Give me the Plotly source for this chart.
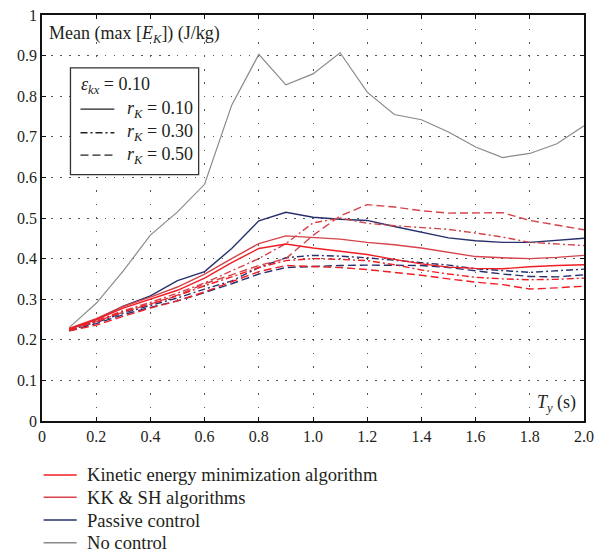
import plotly.graph_objects as go

# ---------------- data ----------------
T_y = [0.1, 0.2, 0.3, 0.4, 0.5, 0.6, 0.7, 0.8, 0.9, 1.0,
       1.1, 1.2, 1.3, 1.4, 1.5, 1.6, 1.7, 1.8, 1.9, 2.0]

no_control = [0.230, 0.290, 0.370, 0.458, 0.515, 0.583, 0.778, 0.903, 0.828, 0.855,
              0.907, 0.810, 0.755, 0.742, 0.712, 0.675, 0.649, 0.659, 0.683, 0.727]

passive_r10 = [0.226, 0.250, 0.283, 0.308, 0.346, 0.368, 0.425, 0.493, 0.514, 0.502,
               0.497, 0.494, 0.479, 0.465, 0.451, 0.444, 0.440, 0.440, 0.445, 0.450]
passive_r30 = [0.224, 0.243, 0.266, 0.285, 0.303, 0.325, 0.345, 0.378, 0.402, 0.408,
               0.406, 0.402, 0.396, 0.389, 0.384, 0.375, 0.370, 0.366, 0.370, 0.374]
passive_r50 = [0.222, 0.240, 0.262, 0.280, 0.296, 0.316, 0.338, 0.362, 0.378, 0.381,
               0.383, 0.384, 0.384, 0.383, 0.378, 0.370, 0.362, 0.356, 0.355, 0.360]

kinetic_r10 = [0.227, 0.250, 0.278, 0.300, 0.322, 0.352, 0.390, 0.425, 0.436, 0.426,
               0.418, 0.410, 0.398, 0.387, 0.379, 0.376, 0.375, 0.380, 0.383, 0.385]
kinetic_r30 = [0.225, 0.244, 0.270, 0.288, 0.308, 0.333, 0.355, 0.378, 0.395, 0.400,
               0.398, 0.395, 0.385, 0.372, 0.362, 0.354, 0.350, 0.348, 0.349, 0.352]
kinetic_r50 = [0.222, 0.236, 0.258, 0.278, 0.296, 0.318, 0.343, 0.368, 0.383, 0.381,
               0.378, 0.373, 0.366, 0.359, 0.350, 0.342, 0.336, 0.325, 0.328, 0.332]

kksh_r10 = [0.228, 0.252, 0.282, 0.305, 0.330, 0.362, 0.400, 0.437, 0.456, 0.452,
            0.448, 0.440, 0.434, 0.426, 0.415, 0.405, 0.402, 0.400, 0.403, 0.408]
kksh_r30 = [0.226, 0.247, 0.272, 0.292, 0.315, 0.340, 0.370, 0.400, 0.437, 0.488,
            0.500, 0.487, 0.481, 0.477, 0.472, 0.463, 0.453, 0.440, 0.436, 0.432]
kksh_r50 = [0.225, 0.245, 0.268, 0.288, 0.310, 0.338, 0.360, 0.383, 0.400, 0.457,
            0.505, 0.533, 0.527, 0.518, 0.512, 0.512, 0.513, 0.494, 0.483, 0.471]

x_ticks = [0, 0.2, 0.4, 0.6, 0.8, 1.0, 1.2, 1.4, 1.6, 1.8, 2.0]
x_ticklabels = ["0", "0.2", "0.4", "0.6", "0.8", "1.0", "1.2", "1.4", "1.6", "1.8", "2.0"]
y_ticks = [0, 0.1, 0.2, 0.3, 0.4, 0.5, 0.6, 0.7, 0.8, 0.9, 1.0]
y_ticklabels = ["0", "0.1", "0.2", "0.3", "0.4", "0.5", "0.6", "0.7", "0.8", "0.9", "1"]

legend_labels = ["Kinetic energy minimization algorithm", "KK &amp; SH algorithms",
                 "Passive control", "No control"]
style_labels = ["<i>r</i><sub><i>K</i></sub> = 0.10",
                "<i>r</i><sub><i>K</i></sub> = 0.30",
                "<i>r</i><sub><i>K</i></sub> = 0.50"]

# ---------------- styles ----------------
C_KE = "#f01e24"
C_KK = "#d5434b"
C_PASS = "#27306c"
C_NO = "#8a8a8a"
DASH_SOLID = "solid"
DASH_DD = "7px,3px,2px,3px"
DASH_DASH = "8px,4px"
FONT = "Liberation Serif, Times New Roman, serif"
TXT = "#231f20"
LW = 1.4

fig = go.Figure()

def add(y, color, dash, name, width=LW):
    fig.add_trace(go.Scatter(x=T_y, y=y, mode="lines", name=name, showlegend=False,
                             line=dict(color=color, width=width, dash=dash)))

add(no_control, C_NO, DASH_SOLID, "No control", 1.2)
add(passive_r10, C_PASS, DASH_SOLID, "Passive r=0.10")
add(passive_r30, C_PASS, DASH_DD, "Passive r=0.30")
add(passive_r50, C_PASS, DASH_DASH, "Passive r=0.50")
add(kksh_r10, C_KK, DASH_SOLID, "KK&SH r=0.10")
add(kksh_r30, C_KK, DASH_DD, "KK&SH r=0.30")
add(kksh_r50, C_KK, DASH_DASH, "KK&SH r=0.50")
add(kinetic_r10, C_KE, DASH_SOLID, "Kinetic r=0.10")
add(kinetic_r30, C_KE, DASH_DD, "Kinetic r=0.30")
add(kinetic_r50, C_KE, DASH_DASH, "Kinetic r=0.50")

shapes = []
annotations = []

# inner line-style legend box
shapes.append(dict(type="rect", xref="x", yref="y", x0=0.105, x1=0.578, y0=0.607, y1=0.870,
                   line=dict(color="#333", width=1.3), fillcolor="white", layer="above"))
annotations.append(dict(xref="x", yref="y", x=0.135, y=0.826, xanchor="left", yanchor="middle",
                        text="<i>ε</i><sub><i>kx</i></sub> = 0.10", showarrow=False,
                        font=dict(family=FONT, size=18, color=TXT)))
for yy, dash, lab in zip([0.768, 0.710, 0.655], [DASH_SOLID, DASH_DD, DASH_DASH], style_labels):
    shapes.append(dict(type="line", xref="x", yref="y", x0=0.142, x1=0.267, y0=yy, y1=yy,
                       line=dict(color="#222", width=1.3, dash=dash), layer="above"))
    annotations.append(dict(xref="x", yref="y", x=0.305, y=yy, xanchor="left", yanchor="middle",
                            text=lab, showarrow=False, font=dict(family=FONT, size=18, color=TXT)))

# axis titles inside the plot
annotations.append(dict(xref="x", yref="y", x=0.02, y=0.952, xanchor="left", yanchor="middle",
                        text="Mean (max [<i>E</i><sub><i>K</i></sub>]) (J/kg)", showarrow=False,
                        font=dict(family=FONT, size=18, color=TXT)))
annotations.append(dict(xref="x", yref="y", x=1.978, y=0.042, xanchor="right", yanchor="middle",
                        text="<i>T</i><sub><i>y</i></sub> (s)", showarrow=False,
                        font=dict(family=FONT, size=18, color=TXT)))

# bottom colour legend
for yy, col, lab in zip([-0.133, -0.188, -0.244, -0.300], [C_KE, C_KK, C_PASS, C_NO], legend_labels):
    shapes.append(dict(type="line", xref="paper", yref="paper", x0=0.003, x1=0.064, y0=yy, y1=yy,
                       line=dict(color=col, width=1.5)))
    annotations.append(dict(xref="paper", yref="paper", x=0.080, y=yy, xanchor="left",
                            yanchor="middle", text=lab, showarrow=False,
                            font=dict(family=FONT, size=18.6, color=TXT)))

axis_common = dict(showline=True, linecolor="#111", linewidth=1.5, mirror="allticks",
                   ticks="inside", ticklen=4, tickcolor="#111", tickwidth=1.2,
                   showgrid=True, gridcolor="#555", gridwidth=1, zeroline=False,
                   automargin=False,
                   tickfont=dict(family=FONT, size=16, color=TXT))

fig.update_xaxes(range=[0, 2], tickvals=x_ticks, ticktext=x_ticklabels,
                 griddash="1.5px,12px", **axis_common)
fig.update_yaxes(range=[0, 1], tickvals=y_ticks, ticktext=y_ticklabels,
                 griddash="1.5px,7.5px", **axis_common)

fig.update_layout(width=596, height=557, margin=dict(l=42, r=12, t=15, b=136),
                  paper_bgcolor="white", plot_bgcolor="white",
                  shapes=shapes, annotations=annotations, showlegend=False)

fig.write_html("out.html")
